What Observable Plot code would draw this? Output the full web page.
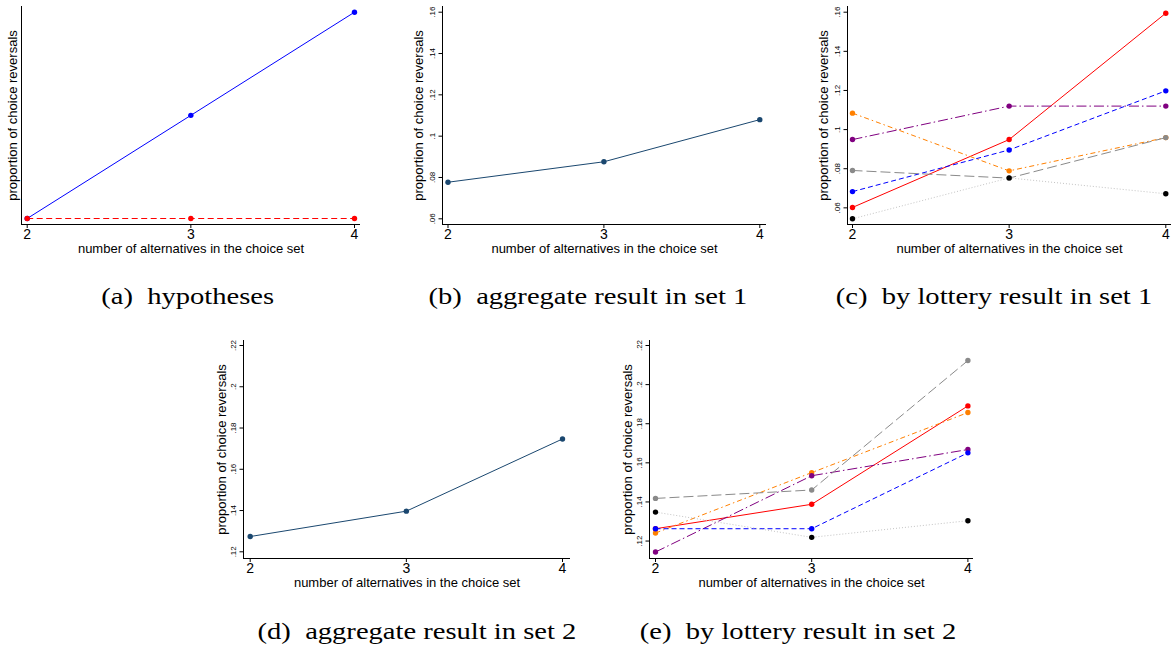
<!DOCTYPE html>
<html>
<head>
<meta charset="utf-8">
<script src="https://cdn.jsdelivr.net/npm/d3@7"></script>
<script src="https://cdn.jsdelivr.net/npm/@observablehq/plot@0.6"></script>
<style>
  html, body { margin: 0; padding: 0; background: #fff; }
  #fig { position: relative; width: 1176px; height: 652px; overflow: hidden; background: #fff; }
  .panel { position: absolute; }
  .cap { position: absolute; font-family: "Liberation Serif", "Times New Roman", serif; font-size: 24px; line-height: 24px;
         white-space: nowrap; color: #000; transform-origin: center; }
</style>
</head>
<body>
<div id="fig"></div>
<script>
// ---------------- data ----------------
const xValues = [2, 3, 4];
const xTicks = [2, 3, 4];

// (a) hypotheses (arbitrary units)
const hypIncreasing = [0, 0.5, 1];
const hypConstant = [0, 0, 0];

// (b) aggregate, set 1
const set1Aggregate = [0.0777, 0.0876, 0.108];
// (c) by lottery, set 1
const set1Red    = [0.0602, 0.0949, 0.1595];
const set1Orange = [0.1084, 0.0789, 0.0959];
const set1Purple = [0.0949, 0.1120, 0.1120];
const set1Blue   = [0.0683, 0.0896, 0.1198];
const set1Gray   = [0.0791, 0.0752, 0.0959];
const set1Black  = [0.0544, 0.0753, 0.0672];

// (d) aggregate, set 2
const set2Aggregate = [0.1274, 0.1397, 0.1747];
// (e) by lottery, set 2
const set2Red    = [0.1263, 0.1388, 0.1891];
const set2Orange = [0.1241, 0.1550, 0.1857];
const set2Purple = [0.1144, 0.1534, 0.1668];
const set2Blue   = [0.1263, 0.1263, 0.1651];
const set2Gray   = [0.1418, 0.1461, 0.2123];
const set2Black  = [0.1348, 0.1219, 0.1304];

const set1Ticks = [0.06, 0.08, 0.10, 0.12, 0.14, 0.16];
const set2Ticks = [0.12, 0.14, 0.16, 0.18, 0.20, 0.22];

const xTitle = "number of alternatives in the choice set";
const yTitle = "proportion of choice reversals";
const captions = [
  "(a)\u2002hypotheses",
  "(b)\u2002aggregate result in set 1",
  "(c)\u2002by lottery result in set 1",
  "(d)\u2002aggregate result in set 2",
  "(e)\u2002by lottery result in set 2"
];

// ---------------- styles ----------------
const ST = {
  navy:   {stroke: "#1a476f", fill: "#1a476f"},
  hypBlue:{stroke: "#0000ff", fill: "#0000ff"},
  hypRed: {stroke: "#ff0000", fill: "#ff0000", dash: "6,3.5"},
  red:    {stroke: "#ff0000", fill: "#ff0000"},
  orange: {stroke: "#ff8000", fill: "#ff8000", dash: "5,3,1.5,3"},
  purple: {stroke: "#800080", fill: "#800080", dash: "10,3,1.5,3"},
  blue:   {stroke: "#0000ff", fill: "#0000ff", dash: "5,3"},
  gray:   {stroke: "#8a8a8a", fill: "#8a8a8a", dash: "10,4"},
  black:  {stroke: "#c4c4c4", fill: "#000000", dash: "1,2"}
};

const fmtStata = d => d3.format(".2~f")(d).replace(/^0\./, ".");

function seriesMarks(values, st) {
  const rows = values.map((v, i) => ({x: xValues[i], y: v}));
  return [
    Plot.line(rows, {x: "x", y: "y", stroke: st.stroke, strokeWidth: 1,
                     strokeDasharray: st.dash, strokeLinecap: "butt"}),
    Plot.dot(rows, {x: "x", y: "y", r: 2.7, fill: st.fill, stroke: "none"})
  ];
}

function makePanel(cfg) {
  const marks = [
    // axis lines along the left and bottom edges of the frame
    Plot.ruleX([xTicks[0]], {dx: -cfg.inL, stroke: "#000", strokeWidth: 1}),
    Plot.ruleY([cfg.yDomain[0]], {dy: cfg.inB, stroke: "#000", strokeWidth: 1}),
    Plot.axisX({ticks: xTicks, tickSize: 4, tickPadding: 1, fontSize: 14,
                label: null, tickFormat: d => String(d)}),
    cfg.yTicks
      ? Plot.axisY({ticks: cfg.yTicks, tickSize: 3.5, tickRotate: -90, tickPadding: 4.5,
                    fontSize: 8, label: null, tickFormat: fmtStata})
      : null,
    Plot.text([xTitle], {frameAnchor: "bottom", dy: 24, lineAnchor: "middle", textAnchor: "middle",
                         fontSize: 13, text: d => d}),
    Plot.text([yTitle], {frameAnchor: "left", dx: -cfg.yTitleGap, rotate: -90, textAnchor: "middle",
                         lineAnchor: "middle", fontSize: 13, text: d => d}),
    ...cfg.series.flatMap(s => seriesMarks(s[0], s[1]))
  ];
  const svg = Plot.plot({
    width: cfg.width, height: 262,
    marginLeft: cfg.ml, marginRight: cfg.mr, marginTop: 6, marginBottom: 38,
    style: {background: "transparent", color: "#000", fontFamily: "'Liberation Sans', Arial, sans-serif",
            fontSize: "12px", overflow: "visible"},
    x: {domain: [2, 4], insetLeft: cfg.inL, insetRight: cfg.inR, label: null},
    y: {domain: cfg.yDomain, insetTop: cfg.inT, insetBottom: cfg.inB, label: null, axis: cfg.yTicks ? undefined : null},
    marks
  });
  const wrap = document.createElement("div");
  wrap.className = "panel";
  wrap.style.left = cfg.left + "px";
  wrap.style.top = cfg.top + "px";
  wrap.appendChild(svg);
  document.getElementById("fig").appendChild(wrap);
}

const set1Lots = [set1Red, set1Orange, set1Purple, set1Blue, set1Gray, set1Black];
const set2Lots = [set2Red, set2Orange, set2Purple, set2Blue, set2Gray, set2Black];
const lotStyles = [ST.red, ST.orange, ST.purple, ST.blue, ST.gray, ST.black];

makePanel({left: 0, top: 0, width: 370, ml: 21, mr: 10, inL: 5.7, inR: 6, inT: 5.7, inB: 6,
           yDomain: [0, 1], yTicks: null, yTitleGap: 8.5,
           series: [[hypIncreasing, ST.hypBlue], [hypConstant, ST.hypRed]]});

makePanel({left: 392, top: 0, width: 384, ml: 50, mr: 10, inL: 5.5, inR: 6.7, inT: 5.7, inB: 5.7,
           yDomain: [0.06, 0.16], yTicks: set1Ticks, yTitleGap: 23.5,
           series: [[set1Aggregate, ST.navy]]});

makePanel({left: 797, top: 0, width: 379, ml: 50, mr: 5, inL: 5, inR: 5.7, inT: 5.7, inB: 5.7,
           yDomain: [d3.min(set1Lots.flat()), 0.16], yTicks: set1Ticks, yTitleGap: 24,
           series: set1Lots.map((v, i) => [v, lotStyles[i]])});

makePanel({left: 193, top: 334, width: 387, ml: 50, mr: 10, inL: 6.7, inR: 8, inT: 5, inB: 6.7,
           yDomain: [0.12, 0.22], yTicks: set2Ticks, yTitleGap: 21.6,
           series: [[set2Aggregate, ST.navy]]});

makePanel({left: 599, top: 334, width: 384, ml: 50, mr: 10, inL: 6, inR: 5.6, inT: 5, inB: 6.5,
           yDomain: [d3.min(set2Lots.flat()), 0.22], yTicks: set2Ticks, yTitleGap: 21.6,
           series: set2Lots.map((v, i) => [v, lotStyles[i]])});

// captions
const capPos = [[187.5, 284], [588, 284], [993.5, 284], [417, 619], [798, 619]];
captions.forEach((t, i) => {
  const d = document.createElement("div");
  d.className = "cap";
  d.textContent = t;
  document.getElementById("fig").appendChild(d);
  const w = d.getBoundingClientRect().width;
  d.style.left = (capPos[i][0] - w / 2) + "px";
  d.style.top = capPos[i][1] + "px";
  d.style.transform = "scaleX(1.19)";
});
</script>
</body>
</html>
